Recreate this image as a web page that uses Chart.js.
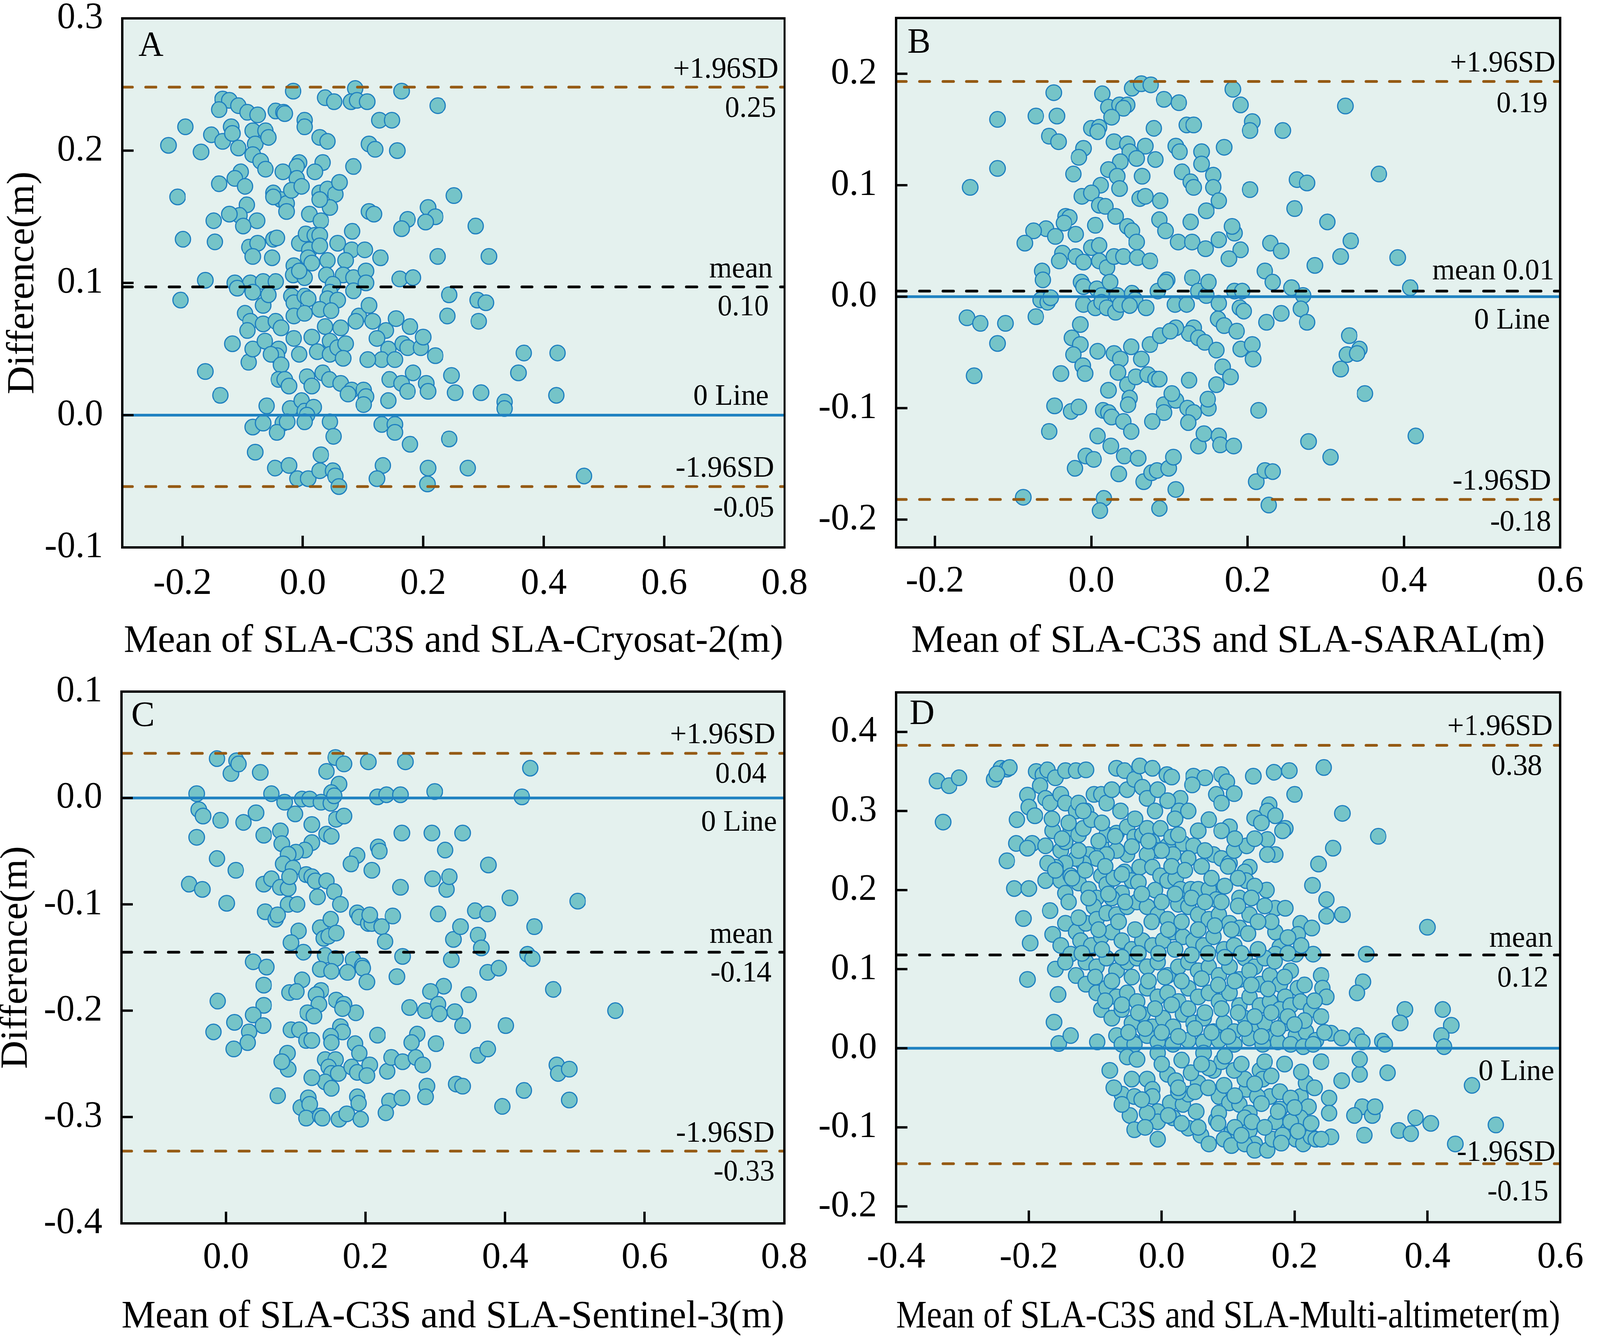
<!DOCTYPE html>
<html>
<head>
<meta charset="utf-8">
<script src="https://cdn.jsdelivr.net/npm/chart.js@4.4.1/dist/chart.umd.min.js"></script>
<style>
  html, body { margin: 0; padding: 0; background: #fff; overflow: hidden; }
  #stage { position: absolute; left: 0; top: 0; width: 4152px; height: 3432px; transform-origin: 0 0; }
  canvas { position: absolute; }
</style>
</head>
<body>
<div id="stage">
<canvas id="panelA" width="2160" height="1716" style="left:0px;top:0px"></canvas>
<canvas id="panelB" width="2076" height="1716" style="left:2076px;top:0px"></canvas>
<canvas id="panelC" width="2160" height="1716" style="left:0px;top:1716px"></canvas>
<canvas id="panelD" width="2076" height="1716" style="left:2076px;top:1716px"></canvas>
</div>
<script>
// ---- A: SLA-C3S vs Cryosat-2 ----
const cryoXTicks = [-0.2, 0, 0.2, 0.4, 0.6, 0.8];
const cryoYTicks = [-0.1, 0, 0.1, 0.2, 0.3];
const cryoLines = [0.248, 0.097, 0, -0.054]; // +1.96SD, mean, 0 line, -1.96SD
const cryoPoints = [
  [-0.016,0.245],[0.037,0.240],[0.052,0.237],[0.087,0.247],[0.080,0.237],[0.090,0.238],[0.107,0.237],[0.164,0.245],[0.224,0.234],
  [-0.133,0.239],[-0.122,0.238],[-0.107,0.234],[-0.092,0.229],[-0.075,0.227],[-0.139,0.231],[-0.045,0.230],[-0.032,0.229],[-0.030,0.228],
  [0.003,0.223],[0.003,0.218],[0.127,0.223],[0.148,0.223],[-0.223,0.204],[-0.195,0.218],[-0.169,0.199],[-0.152,0.212],[-0.133,0.207],
  [-0.119,0.218],[-0.117,0.213],[-0.107,0.202],[-0.083,0.215],[-0.079,0.205],[-0.062,0.215],[-0.057,0.210],[-0.083,0.197],[-0.070,0.192],
  [-0.062,0.186],[0.028,0.210],[0.041,0.207],[0.110,0.205],[0.120,0.201],[0.157,0.200],[-0.006,0.191],[-0.010,0.188],[0.033,0.191],
  [0.020,0.184],[-0.033,0.184],[-0.010,0.179],[0.084,0.188],[-0.103,0.184],[-0.113,0.179],[-0.139,0.175],[-0.096,0.173],[-0.208,0.165],
  [-0.049,0.168],[-0.036,0.163],[-0.027,0.160],[-0.049,0.165],[-0.019,0.170],[-0.002,0.173],[0.028,0.168],[0.041,0.171],[0.054,0.167],
  [0.045,0.157],[0.061,0.176],[0.028,0.163],[0.251,0.166],[-0.093,0.159],[-0.105,0.151],[-0.122,0.152],[-0.076,0.147],[-0.099,0.143],
  [-0.148,0.147],[-0.027,0.154],[0.011,0.152],[0.030,0.147],[0.110,0.154],[0.118,0.152],[0.208,0.157],[0.220,0.150],[0.204,0.146],
  [0.174,0.148],[0.164,0.141],[0.287,0.143],[-0.199,0.133],[-0.146,0.131],[-0.089,0.127],[-0.075,0.130],[-0.049,0.133],[-0.043,0.134],
  [-0.083,0.120],[-0.051,0.119],[-0.006,0.130],[0.005,0.137],[0.020,0.136],[0.028,0.136],[0.011,0.125],[0.028,0.128],[0.009,0.119],
  [0.015,0.115],[0.041,0.117],[0.058,0.130],[0.082,0.139],[0.081,0.125],[0.103,0.125],[0.071,0.117],[0.129,0.119],[0.224,0.120],
  [0.309,0.120],[-0.015,0.113],[-0.016,0.106],[0.003,0.104],[-0.006,0.109],[0.039,0.106],[0.067,0.106],[0.084,0.104],[0.105,0.109],
  [0.105,0.100],[-0.162,0.102],[-0.113,0.100],[-0.087,0.100],[-0.066,0.101],[-0.045,0.101],[-0.109,0.096],[0.050,0.099],[0.045,0.093],
  [0.161,0.103],[0.183,0.104],[-0.203,0.087],[-0.083,0.093],[-0.066,0.083],[-0.057,0.091],[-0.019,0.090],[-0.015,0.085],[0.003,0.090],
  [0.009,0.088],[0.041,0.088],[0.058,0.087],[0.084,0.094],[0.243,0.091],[0.290,0.087],[0.304,0.085],
  [-0.096,0.077],[-0.087,0.071],[-0.092,0.064],[-0.066,0.069],[-0.045,0.071],[-0.036,0.066],[-0.015,0.075],[0.003,0.077],[0.028,0.080],
  [0.047,0.079],[0.037,0.067],[0.063,0.066],[0.093,0.075],[0.088,0.071],[0.110,0.083],[0.116,0.071],[0.155,0.073],[0.138,0.064],
  [0.178,0.067],[0.240,0.075],[0.292,0.071],
  [-0.117,0.054],[-0.090,0.040],[-0.083,0.050],[-0.063,0.056],[-0.040,0.050],[-0.043,0.045],[-0.053,0.046],[-0.015,0.058],[0.015,0.059],
  [0.024,0.048],[-0.006,0.046],[0.045,0.056],[0.045,0.046],[0.058,0.051],[0.071,0.054],[0.067,0.043],[0.123,0.058],[0.142,0.050],
  [0.166,0.054],[0.174,0.051],[0.196,0.051],[0.200,0.059],[0.220,0.045],[0.131,0.042],[0.153,0.042],[0.108,0.042],[0.367,0.047],[0.423,0.047],
  [-0.162,0.033],[-0.036,0.038],[-0.040,0.027],[-0.030,0.027],[-0.023,0.022],[0.007,0.029],[0.015,0.022],[0.033,0.032],[0.044,0.027],
  [0.063,0.024],[0.081,0.019],[0.075,0.016],[0.101,0.019],[0.105,0.014],[0.101,0.008],[0.144,0.027],[0.142,0.011],[0.164,0.024],
  [0.174,0.018],[0.183,0.032],[0.205,0.024],[0.208,0.018],[0.247,0.030],[0.253,0.017],[0.296,0.017],[0.358,0.032],[0.335,0.010],
  [0.335,0.005],[0.421,0.015],[-0.137,0.015],
  [-0.060,0.007],[-0.021,0.005],[-0.002,0.011],[0.003,0.003],[0.018,0.006],[0.007,0.000],[0.003,-0.005],[0.045,-0.005],[0.051,-0.016],
  [-0.083,-0.009],[-0.066,-0.006],[-0.033,-0.006],[-0.043,-0.013],[-0.079,-0.028],[-0.046,-0.040],[-0.023,-0.038],[0.030,-0.030],
  [-0.009,-0.048],[0.009,-0.048],[0.028,-0.042],[0.050,-0.042],[0.054,-0.046],[0.060,-0.054],[0.131,-0.007],[0.153,-0.007],[0.153,-0.013],
  [0.178,-0.022],[0.133,-0.038],[0.123,-0.048],[0.208,-0.040],[0.207,-0.052],[0.243,-0.018],[0.274,-0.040],[0.467,-0.046],[-0.026,-0.005]
];

// ---- B: SLA-C3S vs SARAL ----
const saralXTicks = [-0.2, 0, 0.2, 0.4, 0.6];
const saralYTicks = [-0.2, -0.1, 0, 0.1, 0.2];
const saralLines = [0.193, 0.005, 0, -0.182];
const saralPoints = [
  [-0.048,0.183],[0.014,0.182],[0.052,0.187],[0.064,0.191],[0.076,0.190],[0.181,0.186],[0.093,0.177],[0.112,0.174],[0.022,0.170],
  [0.036,0.172],[0.046,0.172],[0.041,0.169],[0.026,0.161],[0.191,0.172],[0.325,0.171],[-0.120,0.159],[-0.071,0.162],[-0.044,0.162],
  [0.206,0.157],[0.203,0.149],[0.245,0.149],[0.000,0.151],[0.010,0.152],[0.008,0.148],[0.080,0.151],[0.122,0.154],[0.131,0.154],
  [-0.054,0.144],[-0.042,0.139],[0.029,0.139],[0.046,0.137],[0.049,0.130],[0.069,0.135],[0.058,0.124],[0.037,0.121],[0.082,0.123],
  [0.108,0.135],[0.113,0.130],[0.141,0.130],[0.141,0.119],[0.170,0.134],[-0.010,0.133],[-0.016,0.125],[-0.023,0.110],[-0.120,0.115],
  [-0.155,0.098],[0.022,0.114],[0.033,0.108],[0.036,0.097],[0.012,0.100],[-0.012,0.090],[0.000,0.093],[0.065,0.108],[0.062,0.088],
  [0.069,0.090],[0.088,0.086],[0.116,0.112],[0.127,0.103],[0.131,0.098],[0.156,0.109],[0.156,0.098],[0.163,0.086],[0.147,0.077],
  [0.203,0.096],[0.263,0.105],[0.276,0.102],[0.368,0.110],[0.260,0.079],
  [0.010,0.082],[0.018,0.081],[0.031,0.072],[0.046,0.063],[0.052,0.059],[0.058,0.049],[0.005,0.064],[0.087,0.069],[0.095,0.059],
  [0.111,0.049],[0.127,0.067],[0.129,0.049],[0.146,0.043],[0.163,0.051],[0.183,0.057],[0.180,0.063],[0.191,0.042],[0.176,0.034],
  [0.302,0.067],[0.332,0.050],[0.319,0.036],[0.286,0.028],[0.392,0.035],[0.229,0.048],[0.243,0.041],[0.222,0.023],[0.232,0.013],[0.408,0.008],
  [-0.033,0.072],[-0.028,0.071],[-0.035,0.066],[-0.058,0.061],[-0.074,0.059],[-0.085,0.048],[-0.020,0.056],[-0.046,0.054],[-0.037,0.039],
  [-0.041,0.032],[-0.020,0.036],[-0.010,0.031],[0.000,0.044],[0.010,0.046],[0.010,0.032],[0.020,0.026],[0.029,0.036],[0.041,0.036],
  [0.059,0.035],[0.075,0.032],[-0.063,0.023],[-0.062,0.015],
  [-0.013,0.013],[-0.010,0.009],[0.007,0.007],[0.013,0.001],[0.024,0.013],[0.033,0.001],[0.052,0.003],[0.056,-0.003],[0.085,0.005],
  [0.097,0.015],[0.095,0.013],[0.129,0.017],[0.137,0.005],[0.147,0.001],[0.150,0.013],[0.183,0.005],[0.193,0.005],[0.256,0.008],
  [0.271,0.001],[-0.065,-0.003],[-0.056,-0.005],[-0.052,-0.001],
  [-0.159,-0.019],[-0.142,-0.024],[-0.110,-0.024],[-0.120,-0.042],[-0.150,-0.071],[-0.071,-0.018],[-0.014,-0.025],[-0.010,-0.007],
  [0.005,-0.010],[0.013,-0.005],[0.020,-0.010],[0.031,-0.014],[0.037,-0.007],[0.049,-0.008],[0.070,-0.010],[0.107,-0.007],[0.122,-0.007],
  [0.163,-0.006],[0.190,-0.010],[0.195,-0.013],[0.243,-0.015],[0.268,-0.011],[0.276,-0.023],[0.224,-0.023],[0.162,-0.020],[0.170,-0.026],
  [0.186,-0.031],[0.131,-0.028],[0.125,-0.033],[0.108,-0.028],[-0.025,-0.037],[-0.014,-0.043],[-0.023,-0.052],[-0.011,-0.062],
  [-0.008,-0.069],[-0.039,-0.069],[0.008,-0.049],[0.029,-0.051],[0.037,-0.056],[0.051,-0.045],[0.064,-0.056],[0.075,-0.043],
  [0.088,-0.035],[0.101,-0.031],[0.137,-0.037],[0.145,-0.041],[0.160,-0.048],[0.191,-0.047],[0.206,-0.043],[0.207,-0.056],
  [0.168,-0.063],[0.178,-0.072],[0.160,-0.079],[0.330,-0.035],[0.343,-0.047],[0.327,-0.052],[0.340,-0.051],[0.319,-0.065],[0.350,-0.087],
  [0.034,-0.068],[0.046,-0.079],[0.057,-0.072],[0.072,-0.070],[0.082,-0.074],[0.087,-0.074],[0.125,-0.075],[0.022,-0.084],[0.049,-0.091],
  [0.047,-0.097],[-0.047,-0.098],[-0.026,-0.103],[-0.016,-0.099],[0.015,-0.102],[0.022,-0.104],[0.026,-0.108],[0.041,-0.112],[0.051,-0.121],
  [0.093,-0.097],[0.093,-0.104],[0.108,-0.093],[0.103,-0.087],[0.123,-0.100],[0.131,-0.104],[0.150,-0.100],[0.149,-0.092],[0.078,-0.112],
  [0.124,-0.113],[0.214,-0.102],[-0.054,-0.121],[0.008,-0.125],[0.025,-0.134],[0.042,-0.143],[0.060,-0.145],[-0.007,-0.143],[0.003,-0.146],
  [-0.021,-0.154],[0.035,-0.159],[0.067,-0.166],[0.077,-0.158],[0.084,-0.156],[0.099,-0.154],[0.105,-0.144],[0.108,-0.173],[0.137,-0.134],
  [0.144,-0.123],[0.163,-0.125],[0.165,-0.133],[0.182,-0.134],[0.211,-0.166],[0.222,-0.156],[0.232,-0.157],[0.278,-0.130],[0.306,-0.144],
  [0.415,-0.125],[-0.087,-0.180],[0.016,-0.181],[0.011,-0.192],[0.087,-0.190],[0.227,-0.187]
];

// ---- C: SLA-C3S vs Sentinel-3 ----
const sentXTicks = [0, 0.2, 0.4, 0.6, 0.8];
const sentYTicks = [-0.4, -0.3, -0.2, -0.1, 0, 0.1];
const sentLines = [0.042, -0.145, 0, -0.332];
const sentPoints = [
  [-0.013,0.037],[0.007,0.023],[0.015,0.035],[0.018,0.032],[0.049,0.024],[0.144,0.025],[0.157,0.038],[0.169,0.032],[0.162,0.013],
  [0.151,0.005],[0.204,0.034],[0.257,0.034],[0.436,0.028],[-0.042,0.004],[0.065,0.004],[0.084,-0.004],[0.109,-0.001],[0.120,-0.001],
  [0.136,-0.004],[0.150,-0.005],[0.155,0.002],[0.217,0.001],[0.230,0.003],[0.250,0.003],[0.299,0.006],[0.424,0.001],
  [-0.039,-0.011],[-0.033,-0.017],[-0.008,-0.021],[0.025,-0.023],[0.043,-0.014],[0.054,-0.035],[0.099,-0.015],[0.123,-0.025],
  [0.158,-0.020],[0.169,-0.017],[0.144,-0.034],[0.151,-0.036],[-0.042,-0.037],
  [0.078,-0.031],[0.080,-0.043],[0.123,-0.042],[0.113,-0.049],[0.100,-0.051],[0.089,-0.053],[0.082,-0.062],[0.096,-0.066],[0.252,-0.033],
  [0.295,-0.033],[0.339,-0.033],[0.218,-0.046],[0.220,-0.050],[0.314,-0.049],[0.188,-0.054],[0.179,-0.062],[0.209,-0.068],[0.376,-0.063],
  [-0.013,-0.057],[0.014,-0.068],
  [-0.053,-0.081],[-0.034,-0.086],[0.001,-0.099],[0.054,-0.081],[0.065,-0.076],[0.078,-0.084],[0.089,-0.085],[0.091,-0.074],[0.115,-0.072],
  [0.123,-0.074],[0.128,-0.078],[0.144,-0.078],[0.155,-0.088],[0.164,-0.100],[0.131,-0.093],[0.089,-0.100],[0.102,-0.100],[0.250,-0.084],
  [0.296,-0.076],[0.316,-0.086],[0.320,-0.074],[0.407,-0.094],[0.504,-0.097],
  [0.056,-0.107],[0.071,-0.114],[0.074,-0.110],[0.104,-0.125],[0.093,-0.136],[0.135,-0.122],[0.150,-0.114],[0.140,-0.132],[0.147,-0.130],
  [0.158,-0.127],[0.188,-0.108],[0.191,-0.112],[0.204,-0.118],[0.209,-0.118],[0.206,-0.110],[0.223,-0.121],[0.228,-0.135],[0.239,-0.111],
  [0.304,-0.109],[0.326,-0.133],[0.336,-0.121],[0.357,-0.106],[0.375,-0.109],[0.361,-0.129],[0.366,-0.141],[0.442,-0.121],[0.111,-0.145],
  [0.142,-0.148],[0.157,-0.151],[0.182,-0.152],[0.195,-0.158],[0.253,-0.149],[0.323,-0.152],[0.432,-0.147],[0.439,-0.151],[0.039,-0.154],[0.058,-0.159],
  [0.054,-0.176],[0.109,-0.171],[0.135,-0.161],[0.151,-0.163],[0.174,-0.164],[0.196,-0.160],[0.202,-0.173],[0.245,-0.168],[0.375,-0.164],
  [0.391,-0.160],[0.312,-0.177],[0.293,-0.182],[0.348,-0.185],[0.469,-0.180],[0.091,-0.183],[0.101,-0.182],[0.136,-0.181],[0.129,-0.185],
  [0.133,-0.194],[0.158,-0.190],[0.169,-0.194],[0.186,-0.202],[0.167,-0.198],[0.117,-0.202],[0.126,-0.205],[0.054,-0.195],[0.039,-0.204],
  [0.053,-0.214],[0.033,-0.220],[0.031,-0.230],[0.012,-0.211],[-0.012,-0.191],[-0.018,-0.220],[0.011,-0.236],[0.093,-0.218],[0.105,-0.218],
  [0.115,-0.228],[0.123,-0.228],[0.164,-0.215],[0.167,-0.220],[0.150,-0.224],[0.151,-0.230],[0.217,-0.223],[0.263,-0.197],[0.286,-0.200],
  [0.304,-0.194],[0.306,-0.203],[0.328,-0.201],[0.339,-0.214],[0.301,-0.231],[0.274,-0.222],[0.266,-0.230],[0.401,-0.214],[0.558,-0.200],
  [0.088,-0.240],[0.089,-0.255],[0.080,-0.248],[0.142,-0.246],[0.157,-0.246],[0.147,-0.253],[0.151,-0.259],[0.142,-0.267],[0.151,-0.273],
  [0.123,-0.263],[0.161,-0.259],[0.185,-0.231],[0.191,-0.240],[0.180,-0.253],[0.188,-0.258],[0.206,-0.251],[0.202,-0.261],[0.231,-0.257],
  [0.237,-0.244],[0.253,-0.248],[0.272,-0.244],[0.282,-0.251],[0.361,-0.242],[0.375,-0.236],[0.474,-0.251],[0.476,-0.259],[0.492,-0.255],
  [0.330,-0.269],[0.339,-0.271],[0.288,-0.271],[0.286,-0.281],[0.234,-0.285],[0.252,-0.282],[0.229,-0.296],[0.188,-0.281],[0.190,-0.287],
  [0.074,-0.280],[0.107,-0.291],[0.118,-0.282],[0.120,-0.288],[0.115,-0.301],[0.135,-0.299],[0.138,-0.301],[0.162,-0.302],[0.173,-0.297],
  [0.193,-0.302],[0.396,-0.290],[0.427,-0.275],[0.492,-0.284]
];

// ---- D: SLA-C3S vs Multi-altimeter ----
const multiXTicks = [-0.4, -0.2, 0, 0.2, 0.4, 0.6];
const multiYTicks = [-0.2, -0.1, 0, 0.1, 0.2, 0.3, 0.4];
const multiLines = [0.383, 0.118, 0, -0.146];
const multiPoints = [
  [-0.338,0.338],[-0.320,0.332],[-0.305,0.342],[-0.329,0.286],[-0.252,0.340],[-0.242,0.354],[-0.233,0.353],[-0.229,0.355],[-0.248,0.347],
  [-0.233,0.237],[-0.222,0.202],[-0.200,0.202],[-0.208,0.164],[-0.198,0.133],[-0.202,0.087],[-0.218,0.289],[-0.202,0.320],[-0.200,0.305],
  [-0.191,0.294],[-0.219,0.259],[-0.195,0.259],[-0.202,0.253],[-0.189,0.350],[-0.179,0.346],[-0.172,0.352],[-0.160,0.342],[-0.145,0.351],
  [-0.129,0.351],[-0.114,0.352],[-0.183,0.332],[-0.175,0.316],[-0.168,0.310],[-0.152,0.321],[-0.145,0.310],[-0.129,0.300],[-0.125,0.310],
  [-0.114,0.300],[-0.102,0.321],[-0.091,0.321],[-0.083,0.310],[-0.075,0.327],[-0.068,0.354],[-0.056,0.351],[-0.052,0.327],[-0.041,0.340],
  [-0.033,0.357],[-0.014,0.354],[-0.029,0.330],[-0.022,0.316],[-0.006,0.327],[0.008,0.346],[0.015,0.343],[0.028,0.316],[0.026,0.300],
  [0.009,0.313],[0.048,0.344],[0.065,0.342],[0.046,0.333],[0.090,0.346],[0.098,0.337],[0.109,0.322],[0.082,0.321],[0.090,0.310],
  [0.071,0.289],[0.102,0.280],[0.138,0.344],[0.169,0.349],[0.192,0.351],[0.200,0.321],[0.162,0.308],[0.159,0.300],[0.171,0.294],
  [0.186,0.278],[0.140,0.291],[0.244,0.355],[0.272,0.297],[0.326,0.268],
  [-0.175,0.256],[-0.152,0.250],[-0.164,0.275],[-0.145,0.261],[-0.137,0.278],[-0.125,0.270],[-0.118,0.278],[-0.106,0.289],[-0.110,0.245],
  [-0.091,0.256],[-0.083,0.270],[-0.068,0.272],[-0.052,0.280],[-0.041,0.267],[-0.029,0.270],[-0.022,0.278],[-0.014,0.261],[-0.002,0.278],
  [0.009,0.256],[0.015,0.267],[0.032,0.259],[0.048,0.256],[0.040,0.240],[0.017,0.245],[-0.006,0.250],[-0.022,0.245],[-0.052,0.245],
  [-0.068,0.250],[-0.083,0.245],[-0.098,0.240],[-0.118,0.234],[-0.129,0.240],[-0.145,0.234],[-0.160,0.229],[-0.172,0.234],[-0.175,0.212],
  [-0.152,0.212],[-0.137,0.218],[-0.145,0.196],[-0.125,0.209],[-0.110,0.201],[-0.091,0.218],[-0.083,0.207],[-0.072,0.215],[-0.056,0.223],
  [-0.045,0.212],[-0.060,0.196],[-0.075,0.190],[-0.098,0.190],[-0.102,0.179],[-0.033,0.229],[-0.014,0.229],[-0.002,0.218],[0.009,0.212],
  [0.021,0.215],[0.028,0.201],[0.044,0.201],[0.055,0.201],[0.078,0.245],[0.090,0.240],[0.102,0.234],[0.109,0.250],[0.128,0.256],
  [0.132,0.229],[0.159,0.264],[0.171,0.245],[0.182,0.275],[0.159,0.245],[0.125,0.223],[0.127,0.212],[0.117,0.190],[0.086,0.201],
  [0.071,0.201],[0.082,0.188],
  [0.227,0.206],[0.236,0.233],[0.258,0.253],[0.248,0.188],[0.248,0.167],[0.272,0.169],[0.209,0.158],[0.226,0.152],[0.400,0.153],
  [0.308,0.119],[0.158,0.200],[0.171,0.177],[0.186,0.177],[0.205,0.144],[0.202,0.119],[0.228,0.119],[0.171,0.147],[0.178,0.128],
  [0.171,0.119],[0.240,0.092],[0.242,0.076],[0.248,0.065],[0.303,0.084],[0.294,0.070],[0.366,0.049],[0.359,0.032],[0.423,0.049],
  [0.436,0.029],[0.421,0.016],[0.425,0.002],[0.467,-0.047],[0.503,-0.097],
  [-0.168,0.174],[-0.164,0.144],[-0.160,0.100],[-0.156,0.068],[-0.162,0.033],[-0.155,0.006],[-0.137,0.016],[-0.097,0.008],[-0.145,0.158],
  [-0.129,0.147],[-0.114,0.158],[-0.098,0.163],[-0.083,0.171],[-0.068,0.169],[-0.052,0.179],[-0.037,0.185],[-0.022,0.179],[-0.006,0.169],
  [0.009,0.163],[0.025,0.182],[0.040,0.179],[0.055,0.169],[0.071,0.163],[0.086,0.169],[0.102,0.158],[0.117,0.152],[0.132,0.169],
  [-0.152,0.130],[-0.137,0.119],[-0.122,0.136],[-0.106,0.130],[-0.091,0.141],[-0.075,0.147],[-0.060,0.136],[-0.045,0.125],[-0.029,0.136],
  [-0.014,0.130],[0.002,0.136],[0.017,0.147],[0.032,0.141],[0.048,0.136],[0.063,0.130],[0.078,0.141],[0.094,0.125],[0.109,0.130],
  [0.125,0.114],[0.140,0.103],[0.155,0.114],[-0.145,0.109],[-0.129,0.092],[-0.114,0.109],[-0.098,0.103],[-0.083,0.114],[-0.068,0.098],
  [-0.052,0.109],[-0.037,0.114],[-0.022,0.103],[-0.006,0.109],[0.009,0.092],[0.025,0.103],[0.040,0.109],[0.055,0.098],[0.071,0.103],
  [0.086,0.092],[0.102,0.103],[0.117,0.087],[0.132,0.098],[0.148,0.081],[0.163,0.092],[0.178,0.081],[0.194,0.098],[0.205,0.076],[0.186,0.065],
  [-0.114,0.081],[-0.098,0.070],[-0.083,0.076],[-0.068,0.065],[-0.052,0.070],[-0.037,0.059],[-0.022,0.076],[-0.006,0.065],[0.009,0.070],
  [0.025,0.059],[0.040,0.076],[0.055,0.065],[0.071,0.070],[0.086,0.059],[0.102,0.070],[0.117,0.054],[0.132,0.065],[0.148,0.054],
  [0.163,0.059],[0.178,0.049],[0.194,0.054],[0.209,0.059],[0.225,0.049],[-0.091,0.049],[-0.075,0.038],[-0.060,0.049],[-0.045,0.032],
  [-0.029,0.043],[-0.014,0.027],[0.002,0.038],[0.017,0.027],[0.032,0.043],[0.048,0.032],[0.063,0.038],[0.078,0.021],[0.094,0.032],
  [0.109,0.021],[0.125,0.038],[0.140,0.021],[0.155,0.032],[0.171,0.016],[0.186,0.032],[0.202,0.016],[0.217,0.021],[0.232,0.010],
  [0.255,0.019],[0.271,0.013],[0.294,0.016],[0.302,0.008],[0.332,0.009],[0.336,0.005],[-0.068,0.016],[-0.045,0.010],[-0.022,0.016],
  [-0.006,0.008],[0.017,0.005],[0.040,0.010],[0.063,0.008],[0.086,0.010],[0.109,0.005],[0.132,0.013],[0.152,0.005],[0.175,0.008],
  [0.194,0.005],[0.213,0.002],[0.228,0.005],[-0.060,0.005],[-0.041,0.005],
  [-0.078,-0.028],[-0.060,-0.058],[-0.052,-0.011],[-0.045,-0.039],[-0.037,-0.014],[-0.022,-0.039],[-0.014,-0.052],[-0.006,-0.006],
  [0.009,-0.033],[0.021,-0.041],[0.013,-0.069],[-0.006,-0.080],[-0.014,-0.061],[-0.041,-0.061],[-0.048,-0.085],[-0.041,-0.103],
  [-0.006,-0.115],[0.017,-0.088],[0.032,-0.071],[0.052,-0.080],[0.055,-0.044],[0.044,-0.031],[0.063,-0.006],[0.078,-0.028],
  [0.086,-0.061],[0.094,-0.047],[0.102,-0.069],[0.082,-0.091],[0.086,-0.082],[0.105,-0.107],[0.117,-0.071],[0.128,-0.052],
  [0.132,-0.082],[0.125,-0.088],[0.132,-0.104],[0.140,-0.121],[0.148,-0.028],[0.152,-0.039],[0.155,-0.017],[0.163,-0.061],
  [0.171,-0.093],[0.178,-0.055],[0.190,-0.104],[0.202,-0.115],[0.209,-0.061],[0.217,-0.044],[0.221,-0.074],[0.209,-0.088],
  [0.213,-0.121],[0.225,-0.112],[0.232,-0.115],[0.240,-0.017],[0.255,-0.112],[0.252,-0.063],[0.252,-0.082],[0.271,-0.041],
  [0.298,-0.033],[0.298,-0.014],[0.302,-0.074],[0.305,-0.110],[0.290,-0.085],[0.317,-0.085],[0.321,-0.074],[0.340,-0.031],
  [0.357,-0.104],[0.375,-0.108],[0.382,-0.088],[0.405,-0.095],[0.442,-0.121],[0.040,-0.101],[0.059,-0.110],[0.071,-0.121],
  [0.094,-0.115],[0.105,-0.123],[0.125,-0.121],[0.140,-0.129],[0.159,-0.129],[0.167,-0.115],[0.182,-0.110],[0.136,-0.093],
  [0.194,-0.093],[0.178,-0.077],[0.194,-0.063],[0.144,-0.061],[0.125,-0.039],[0.109,-0.028],[0.090,-0.017],[0.071,-0.025],
  [0.040,-0.058],[0.025,-0.055],[-0.006,-0.093],[-0.022,-0.082],[-0.060,-0.071],[-0.072,-0.050],
  [-0.165,0.290],[-0.140,0.285],[-0.118,0.300],[-0.090,0.285],[-0.062,0.300],[-0.040,0.290],[-0.010,0.300],[0.020,0.290],[0.040,0.300],
  [-0.150,0.265],[-0.125,0.250],[-0.095,0.262],[-0.070,0.268],[-0.045,0.255],[-0.020,0.262],[0.000,0.250],[0.025,0.270],[0.055,0.275],
  [0.065,0.250],[0.090,0.275],[0.110,0.265],[0.140,0.265],[0.150,0.285],[0.100,0.230],
  [-0.160,0.225],[-0.135,0.215],[-0.115,0.225],[-0.085,0.230],[-0.060,0.220],[-0.035,0.210],[-0.010,0.200],[0.015,0.230],[0.035,0.225],
  [0.060,0.230],[0.075,0.215],[0.095,0.205],[0.115,0.215],[0.140,0.205],[-0.140,0.185],[-0.110,0.190],[-0.080,0.195],[-0.055,0.185],
  [-0.030,0.195],[0.000,0.185],[0.020,0.195],[0.045,0.190],[0.065,0.185],[0.090,0.185],[0.115,0.180],[0.135,0.190],[0.155,0.180],
  [0.165,0.160],[0.145,0.160],[-0.125,0.165],[-0.095,0.150],[-0.065,0.160],[-0.040,0.150],[-0.015,0.160],[0.010,0.150],[0.030,0.160],
  [0.055,0.150],[0.080,0.155],[0.105,0.150],[0.130,0.145],[0.190,0.140],[0.210,0.130],
  [-0.120,0.120],[-0.090,0.125],[-0.060,0.115],[-0.035,0.120],[-0.005,0.120],[0.020,0.125],[0.045,0.118],[0.070,0.120],[0.095,0.115],
  [0.120,0.120],[0.145,0.125],[0.170,0.110],[0.190,0.120],[-0.100,0.090],[-0.075,0.085],[-0.045,0.090],[-0.020,0.085],[0.005,0.090],
  [0.030,0.085],[0.060,0.088],[0.085,0.080],[0.110,0.085],[0.135,0.080],[0.160,0.075],[0.185,0.090],[0.215,0.080],[0.230,0.060],
  [-0.085,0.060],[-0.060,0.055],[-0.035,0.045],[-0.010,0.050],[0.015,0.055],[0.040,0.050],[0.065,0.045],[0.090,0.050],[0.115,0.045],
  [0.140,0.040],[0.165,0.045],[0.190,0.040],[0.215,0.035],[0.240,0.040],[-0.050,0.020],[-0.025,0.025],[0.000,0.020],[0.025,0.015],
  [0.050,0.025],[0.075,0.020],[0.100,0.015],[0.125,0.025],[0.150,0.015],[0.175,0.025],[0.200,0.030],[0.245,0.020],
  [0.000,-0.020],[0.030,-0.015],[0.060,-0.020],[0.095,-0.010],[0.120,-0.020],[0.140,-0.045],[0.165,-0.035],[0.185,-0.020],[0.210,-0.030],
  [0.230,-0.050],[0.025,-0.050],[0.050,-0.055],[0.070,-0.050],[0.110,-0.060],[0.150,-0.070],[0.175,-0.080],[0.200,-0.075],[0.225,-0.095],
  [0.030,-0.095],[0.055,-0.100],[0.085,-0.095],[0.110,-0.100],[0.155,-0.100],[0.180,-0.120],[0.205,-0.105],[0.240,-0.115],[0.120,-0.110],
  [-0.025,-0.100],[-0.030,-0.065],[0.010,-0.085]
];

const FONT = 'Liberation Serif';
const LINE_STYLES = [
  { color: '#955A13', dash: [27, 34], cap: 'round' },
  { color: '#000000', dash: [27, 34], cap: 'round' },
  { color: '#1F82C1', dash: [], cap: 'butt' },
  { color: '#955A13', dash: [27, 34], cap: 'round' }
];

// the window may be narrower than 4152; stretch the 4152 x 3432 layout onto it
const sx = window.innerWidth / 4152, sy = window.innerHeight / 3432;
if (Math.abs(sx - 1) > 0.001 || Math.abs(sy - 1) > 0.001) {
  document.getElementById('stage').style.transform = 'scale(' + sx + ',' + sy + ')';
}

// keep Chart.js from pushing the plot area around for edge tick labels
function noPad(s) {
  s.paddingLeft = 0; s.paddingRight = 0; s.paddingTop = 0; s.paddingBottom = 0;
}

// draws the panel background, frame, inward ticks, letter and line labels
function decoPlugin(p) {
  return {
    id: 'deco',
    beforeDraw(chart) {
      const { ctx, chartArea: a } = chart;
      ctx.save();
      ctx.fillStyle = '#E4F1EE';
      ctx.fillRect(a.left, a.top, a.right - a.left, a.bottom - a.top);
      ctx.restore();
    },
    afterDraw(chart) {
      const { ctx, chartArea: a } = chart;
      const xs = chart.scales.x, ys = chart.scales.y;
      ctx.save();
      ctx.strokeStyle = '#000';
      ctx.lineWidth = 6;
      ctx.beginPath();
      p.xTicks.forEach(v => {
        if (v <= p.xMin || v >= p.xMax) return;
        const px = xs.getPixelForValue(v);
        ctx.moveTo(px, a.bottom);
        ctx.lineTo(px, a.bottom - 30);
      });
      p.yTicks.forEach(v => {
        if (v <= p.yMin || v >= p.yMax) return;
        const py = ys.getPixelForValue(v);
        ctx.moveTo(a.left, py);
        ctx.lineTo(a.left + 30, py);
      });
      ctx.stroke();
      ctx.strokeRect(a.left, a.top, a.right - a.left, a.bottom - a.top);

      ctx.fillStyle = '#000';
      ctx.font = '90px "' + FONT + '"';
      ctx.textAlign = 'center';
      ctx.textBaseline = 'middle';
      ctx.fillText(p.letter, a.left + p.letterPos[0], a.top + p.letterPos[1]);

      ctx.font = '76px "' + FONT + '"';
      ctx.textAlign = 'right';
      ctx.textBaseline = 'alphabetic';
      p.notes.forEach(([text, idx, dy, dx]) => {
        const py = ys.getPixelForValue(p.lines[idx]);
        ctx.fillText(text, a.right + dx, py + dy);
      });
      ctx.restore();
    }
  };
}

function drawPanel(id, p) {
  const canvas = document.getElementById(id);
  const W = canvas.width, H = canvas.height;
  const datasets = p.lines.map((v, i) => ({
    type: 'line',
    data: [{ x: p.xMin, y: v }, { x: p.xMax, y: v }],
    borderColor: LINE_STYLES[i].color,
    borderWidth: 7,
    borderDash: LINE_STYLES[i].dash,
    borderCapStyle: LINE_STYLES[i].cap,
    pointRadius: 0,
    fill: false,
    order: 0
  }));
  datasets.push({
    type: 'scatter',
    data: p.points.map(([x, y]) => ({ x, y })),
    backgroundColor: '#75C4C8',
    borderColor: '#1E7FC0',
    borderWidth: 3,
    pointRadius: 20,
    order: 1
  });

  const tickFont = { family: FONT, size: 96, lineHeight: 1 };
  const titleFont = { family: FONT, size: 100, lineHeight: 1 };

  new Chart(canvas.getContext('2d'), {
    type: 'scatter',
    data: { datasets },
    options: {
      responsive: false,
      animation: false,
      devicePixelRatio: 1,
      events: [],
      layout: { padding: { left: 0, top: p.plot[2], right: W - p.plot[1], bottom: 0 } },
      plugins: { legend: { display: false }, tooltip: { enabled: false } },
      scales: {
        x: {
          type: 'linear',
          position: 'bottom',
          min: p.xMin,
          max: p.xMax,
          grid: { display: false },
          border: { display: false },
          afterBuildTicks: s => { s.ticks = p.xTicks.map(v => ({ value: v })); },
          afterFit: s => { s.height = H - p.plot[3]; noPad(s); },
          ticks: {
            color: '#000',
            font: tickFont,
            padding: p.xTickPad,
            autoSkip: false,
            maxRotation: 0,
            callback: v => v.toFixed(1)
          },
          title: {
            display: true,
            text: p.xTitle,
            color: '#000',
            font: titleFont,
            padding: { top: 0, bottom: p.xTitlePad }
          }
        },
        y: {
          type: 'linear',
          position: 'left',
          min: p.yMin,
          max: p.yMax,
          grid: { display: false },
          border: { display: false },
          afterBuildTicks: s => { s.ticks = p.yTicks.map(v => ({ value: v })); },
          afterFit: s => { s.width = p.plot[0]; noPad(s); },
          ticks: {
            color: '#000',
            font: tickFont,
            padding: 41,
            autoSkip: false,
            callback: v => v.toFixed(1)
          },
          title: {
            display: !!p.yTitle,
            text: p.yTitle || '',
            color: '#000',
            font: { family: FONT, size: 100, lineHeight: 0.8 },
            padding: { top: p.yTitlePad || 0, bottom: 0 }
          }
        }
      }
    },
    plugins: [decoPlugin(p)]
  });
}

drawPanel('panelA', {
  points: cryoPoints, lines: cryoLines, xTicks: cryoXTicks, yTicks: cryoYTicks,
  xMin: -0.3, xMax: 0.8, yMin: -0.1, yMax: 0.3,
  plot: [317, 2036, 47, 1401],
  xTitle: 'Mean of SLA-C3S and SLA-Cryosat-2(m)', xTitlePad: 24, xTickPad: 38,
  yTitle: 'Difference(m)', yTitlePad: 20,
  letter: 'A', letterPos: [75, 72],
  notes: [['+1.96SD', 0, -24, -16], ['0.25', 0, 76, -22], ['mean', 1, -24, -31], ['0.10', 1, 73, -41],
          ['0 Line', 2, -27, -41], ['-1.96SD', 3, -25, -27], ['-0.05', 3, 77, -27]]
});

drawPanel('panelB', {
  points: saralPoints, lines: saralLines, xTicks: saralXTicks, yTicks: saralYTicks,
  xMin: -0.25, xMax: 0.6, yMin: -0.225, yMax: 0.25,
  plot: [249, 1973, 46, 1401],
  xTitle: 'Mean of SLA-C3S and SLA-SARAL(m)', xTitlePad: 24, xTickPad: 32,
  letter: 'B', letterPos: [60, 65],
  notes: [['+1.96SD', 0, -26, -13], ['0.19', 0, 78, -33], ['mean 0.01', 1, -30, -16],
          ['0 Line', 2, 82, -27], ['-1.96SD', 3, -25, -24], ['-0.18', 3, 80, -24]]
});

drawPanel('panelC', {
  points: sentPoints, lines: sentLines, xTicks: sentXTicks, yTicks: sentYTicks,
  xMin: -0.15, xMax: 0.8, yMin: -0.4, yMax: 0.1,
  plot: [315, 2035, 54, 1415],
  xTitle: 'Mean of SLA-C3S and SLA-Sentinel-3(m)', xTitlePad: 11, xTickPad: 33,
  yTitle: 'Difference(m)', yTitlePad: 3,
  letter: 'C', letterPos: [56, 64],
  notes: [['+1.96SD', 0, -26, -23], ['0.04', 0, 75, -46], ['mean', 1, -24, -29], ['-0.14', 1, 75, -33],
          ['0 Line', 2, 84, -19], ['-1.96SD', 3, -24, -25], ['-0.33', 3, 75, -25]]
});

drawPanel('panelD', {
  points: multiPoints, lines: multiLines, xTicks: multiXTicks, yTicks: multiYTicks,
  xMin: -0.4, xMax: 0.6, yMin: -0.22, yMax: 0.45,
  plot: [249, 1973, 56, 1412],
  xTitle: 'Mean of SLA-C3S and SLA-Multi-altimeter(m)', xTitlePad: 11, xTickPad: 35,
  letter: 'D', letterPos: [68, 57],
  notes: [['+1.96SD', 0, -27, -20], ['0.38', 0, 75, -47], ['mean', 1, -21, -20], ['0.12', 1, 81, -31],
          ['0 Line', 2, 81, -16], ['-1.96SD', 3, -7, -13], ['-0.15', 3, 94, -31]]
});
</script>
</body>
</html>
